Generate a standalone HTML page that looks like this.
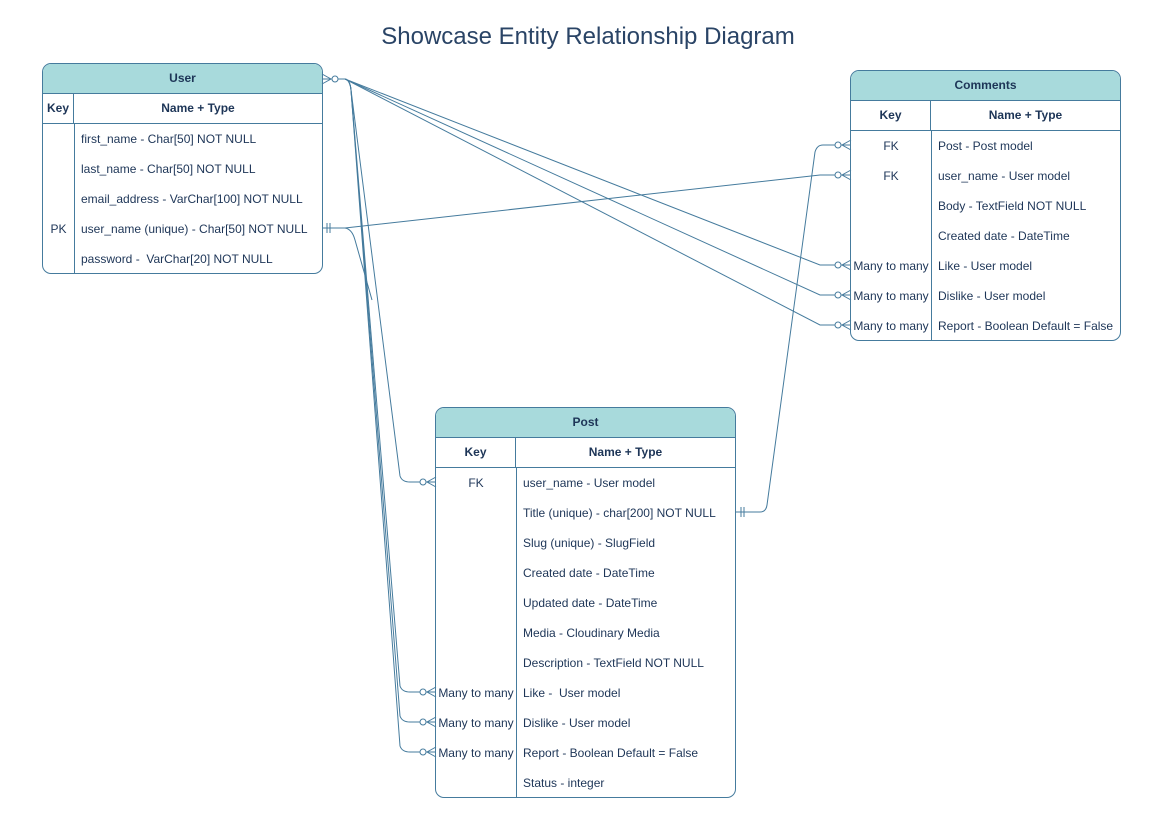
<!DOCTYPE html>
<html><head><meta charset="utf-8"><style>
body{margin:0;width:1169px;height:827px;background:#fff;position:relative;overflow:hidden;font-family:"Liberation Sans",Arial,sans-serif;color:#1d3557}
.t{position:absolute;border:1px solid #457b9d;border-radius:9px;background:#fff;overflow:hidden;box-sizing:border-box}
.h{height:29px;background:#a8dadc;border-bottom:1px solid #457b9d;text-align:center;line-height:29px;font-size:12px;font-weight:bold}
.r{display:flex;height:30px;line-height:30px;font-size:12px}
.k{text-align:center;border-right:1px solid #457b9d;box-sizing:border-box;flex:none;white-space:nowrap}
.n{padding-left:7px;white-space:nowrap}
.ch{border-bottom:1px solid #457b9d;font-weight:bold;height:29px;line-height:29px}
.ch .n{padding:0;text-align:center;flex:1}
.body{position:absolute;left:0;top:60px;bottom:0;border-right:1px solid #457b9d}
h1{position:absolute;top:23px;left:0;width:1176px;text-align:center;margin:0;font-weight:normal;font-size:24px;color:#2a4466}
svg{position:absolute;left:0;top:0}
</style></head><body>
<h1>Showcase Entity Relationship Diagram</h1>

<div class="t" style="left:42px;top:63px;width:281px;height:211px">
<div class="h">User</div>
<div class="r ch"><div class="k" style="width:31px">Key</div><div class="n">Name + Type</div></div>
<div class="body" style="width:31px"></div>
<div class="r"><div class="k" style="width:31px;border:0"></div><div class="n">first_name - Char[50] NOT NULL</div></div>
<div class="r"><div class="k" style="width:31px;border:0"></div><div class="n">last_name - Char[50] NOT NULL</div></div>
<div class="r"><div class="k" style="width:31px;border:0"></div><div class="n">email_address - VarChar[100] NOT NULL</div></div>
<div class="r"><div class="k" style="width:31px;border:0">PK</div><div class="n">user_name (unique) - Char[50] NOT NULL</div></div>
<div class="r"><div class="k" style="width:31px;border:0"></div><div class="n">password -&nbsp; VarChar[20] NOT NULL</div></div>
</div>

<div class="t" style="left:850px;top:70px;width:271px;height:271px">
<div class="h">Comments</div>
<div class="r ch"><div class="k" style="width:80px">Key</div><div class="n">Name + Type</div></div>
<div class="body" style="width:80px"></div>
<div class="r"><div class="k" style="width:80px;border:0">FK</div><div class="n">Post - Post model</div></div>
<div class="r"><div class="k" style="width:80px;border:0">FK</div><div class="n">user_name - User model</div></div>
<div class="r"><div class="k" style="width:80px;border:0"></div><div class="n">Body - TextField NOT NULL</div></div>
<div class="r"><div class="k" style="width:80px;border:0"></div><div class="n">Created date - DateTime</div></div>
<div class="r"><div class="k" style="width:80px;border:0">Many to many</div><div class="n">Like - User model</div></div>
<div class="r"><div class="k" style="width:80px;border:0">Many to many</div><div class="n">Dislike - User model</div></div>
<div class="r"><div class="k" style="width:80px;border:0">Many to many</div><div class="n">Report - Boolean Default = False</div></div>
</div>

<div class="t" style="left:435px;top:407px;width:301px;height:391px">
<div class="h">Post</div>
<div class="r ch"><div class="k" style="width:80px">Key</div><div class="n">Name + Type</div></div>
<div class="body" style="width:80px"></div>
<div class="r"><div class="k" style="width:80px;border:0">FK</div><div class="n">user_name - User model</div></div>
<div class="r"><div class="k" style="width:80px;border:0"></div><div class="n">Title (unique) - char[200] NOT NULL</div></div>
<div class="r"><div class="k" style="width:80px;border:0"></div><div class="n">Slug (unique) - SlugField</div></div>
<div class="r"><div class="k" style="width:80px;border:0"></div><div class="n">Created date - DateTime</div></div>
<div class="r"><div class="k" style="width:80px;border:0"></div><div class="n">Updated date - DateTime</div></div>
<div class="r"><div class="k" style="width:80px;border:0"></div><div class="n">Media - Cloudinary Media</div></div>
<div class="r"><div class="k" style="width:80px;border:0"></div><div class="n">Description - TextField NOT NULL</div></div>
<div class="r"><div class="k" style="width:80px;border:0">Many to many</div><div class="n">Like -&nbsp; User model</div></div>
<div class="r"><div class="k" style="width:80px;border:0">Many to many</div><div class="n">Dislike - User model</div></div>
<div class="r"><div class="k" style="width:80px;border:0">Many to many</div><div class="n">Report - Boolean Default = False</div></div>
<div class="r"><div class="k" style="width:80px;border:0"></div><div class="n">Status - integer</div></div>
</div>

<svg width="1169" height="827" fill="none" stroke="#457b9d" stroke-width="1">
<path d="M322,79 L345,79 L820,265 L851,265"/>
<path d="M322,79 L345,79 L820,295 L851,295"/>
<path d="M322,79 L345,79 L820,325 L851,325"/>
<path d="M322,79 L345,79 Q350,80 351,90 L400,476 Q402,482 410,482 L436,482"/>
<path d="M322,79 L345,79 Q350,80 351,90 L400,686 Q402,692 410,692 L436,692"/>
<path d="M322,79 L345,79 Q350,80 351,90 L400,716 Q402,722 410,722 L436,722"/>
<path d="M322,79 L345,79 Q350,80 351,90 L400,746 Q402,752 410,752 L436,752"/>
<path d="M322,228 L345,228 L820,175 L851,175"/>
<path d="M345,228 Q352,229 355,240 L372,300"/>
<path d="M735,512 L760,512 Q766,512 767,505 L815,152 Q817,145 823,145 L851,145"/>
<g>
<path d="M322,74 L331,79 L322,84"/><circle cx="335" cy="79" r="3" fill="#fff"/>
<path d="M851,260 L842,265 L851,270"/><circle cx="838" cy="265" r="3" fill="#fff"/>
<path d="M851,290 L842,295 L851,300"/><circle cx="838" cy="295" r="3" fill="#fff"/>
<path d="M851,320 L842,325 L851,330"/><circle cx="838" cy="325" r="3" fill="#fff"/>
<path d="M851,140 L842,145 L851,150"/><circle cx="838" cy="145" r="3" fill="#fff"/>
<path d="M851,170 L842,175 L851,180"/><circle cx="838" cy="175" r="3" fill="#fff"/>
<path d="M436,477 L427,482 L436,487"/><circle cx="423" cy="482" r="3" fill="#fff"/>
<path d="M436,687 L427,692 L436,697"/><circle cx="423" cy="692" r="3" fill="#fff"/>
<path d="M436,717 L427,722 L436,727"/><circle cx="423" cy="722" r="3" fill="#fff"/>
<path d="M436,747 L427,752 L436,757"/><circle cx="423" cy="752" r="3" fill="#fff"/>
<path d="M327,223 V233 M330,223 V233"/>
<path d="M741,507 V517 M744,507 V517"/>
</g>
</svg>
</body></html>
